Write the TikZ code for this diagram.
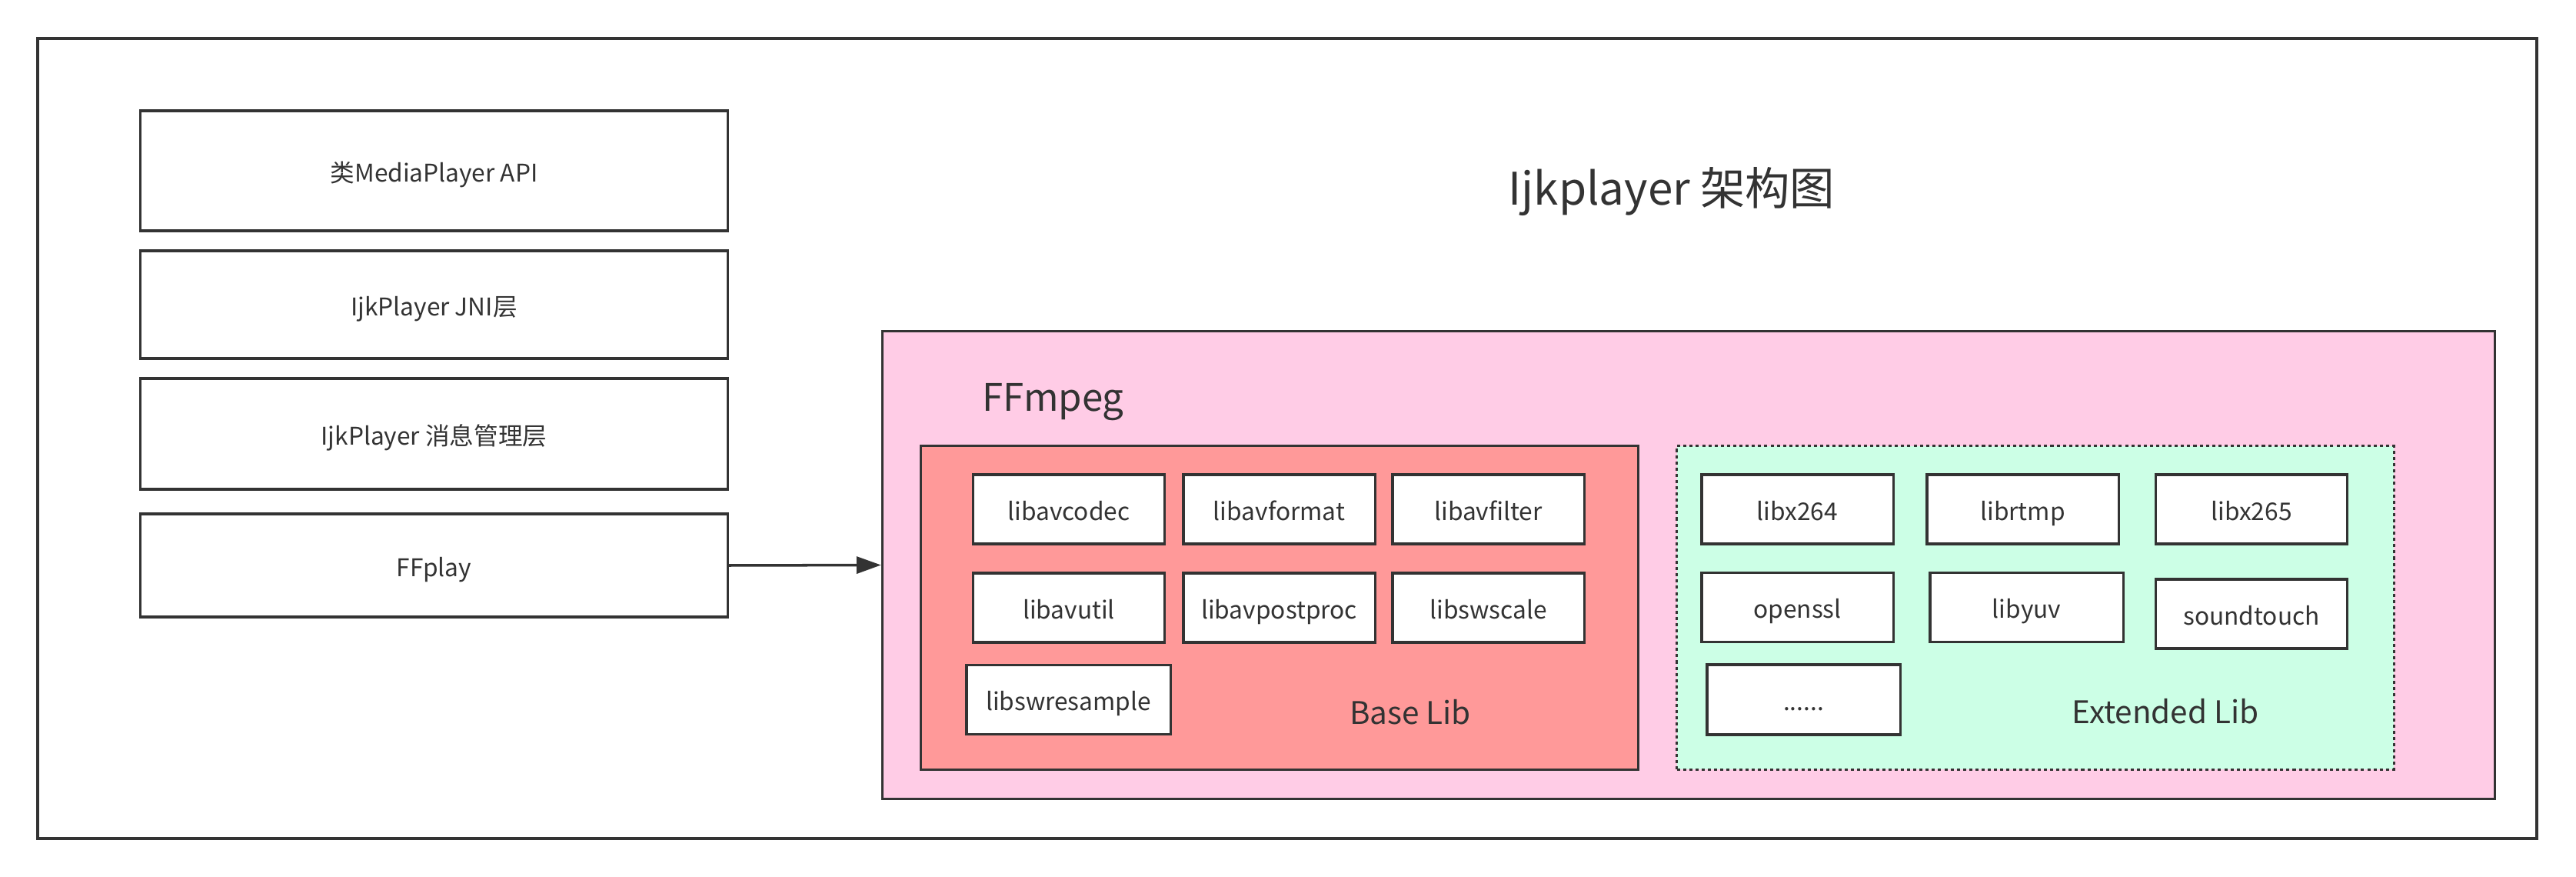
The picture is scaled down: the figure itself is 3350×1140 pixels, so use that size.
\documentclass[tikz,border=0pt]{standalone}
\usepackage{fontspec}
\setmainfont{Noto Sans CJK SC}
\usetikzlibrary{arrows.meta,positioning}
\definecolor{ink}{HTML}{333333}
\definecolor{ffpink}{HTML}{FFCCE6}
\definecolor{basered}{HTML}{FF9999}
\definecolor{extgreen}{HTML}{CCFFE6}

\begin{document}
\begin{tikzpicture}[x=0.01cm, y=-0.01cm,
  every node/.style={font=\fontsize{9}{11}\selectfont, text=ink},
  layer/.style={draw=ink, fill=white, line width=0.9pt, minimum width=7.63cm, inner sep=0pt, text height=10pt, text depth=2pt},
  lib/.style={draw=ink, fill=white, line width=0.9pt, minimum width=2.49cm, minimum height=0.9cm, inner sep=0pt, text height=10pt, text depth=2pt},
  group/.style={draw=ink, line width=0.9pt, minimum width=9.32cm, minimum height=4.2cm, inner sep=0pt},
  grouplab/.style={font=\fontsize{11.5}{13}\selectfont},
]
\useasboundingbox (0,0) rectangle (3350,1140);

% Outer frame
\draw[ink, line width=0.9pt] (49,50) rectangle (3299,1090);

% Title
\node[font=\fontsize{16.6}{19}\selectfont, anchor=base, inner sep=0pt] (title) at (2174,267) {Ijkplayer 架构图};

% --- Player layers ---
\node[layer, minimum height=1.56cm] (api) at (564.5,222) {类MediaPlayer API};
\node[layer, minimum height=1.40cm] (jni) at (564.5,396) {IjkPlayer JNI层};
\node[layer, minimum height=1.44cm] (msg) at (564.5,564) {IjkPlayer 消息管理层};
\node[layer, minimum height=1.34cm] (ffplay) at (564.5,735) {FFplay};

% --- FFmpeg container ---
\node[draw=ink, fill=ffpink, line width=0.9pt, minimum width=20.96cm, minimum height=6.07cm, inner sep=0pt] (ffmpeg) at (2196,734.5) {};
\node[font=\fontsize{14}{16}\selectfont, anchor=base west, inner sep=0pt] (ffmpeglab) at (1277,535) {FFmpeg};

% Base libraries
\node[group, fill=basered] (base) at (1664,790) {};
\node[lib] (avcodec) at (1390,662) {libavcodec};
\node[lib] (avformat) at (1663.5,662) {libavformat};
\node[lib] (avfilter) at (1935.5,662) {libavfilter};
\node[lib] (avutil) at (1390,790) {libavutil};
\node[lib] (postproc) at (1663.5,790) {libavpostproc};
\node[lib] (swscale) at (1935.5,790) {libswscale};
\node[lib, minimum width=2.65cm] (swresample) at (1389.5,909.5) {libswresample};
\node[grouplab] (baselab) at (1834,926) {Base Lib};

% Extended libraries (dotted border)
\node[group, fill=extgreen, dash pattern=on 1.15pt off 1.15pt] (ext) at (2647,790) {};
\node[lib] (x264) at (2337.5,662) {libx264};
\node[lib] (rtmp) at (2630.5,662) {librtmp};
\node[lib] (x265) at (2928,662) {libx265};
\node[lib] (openssl) at (2337.5,789.5) {openssl};
\node[lib, minimum width=2.51cm] (yuv) at (2635.5,789.5) {libyuv};
\node[lib] (soundtouch) at (2928,798) {soundtouch};
\node[lib, minimum width=2.51cm, minimum height=0.91cm] (more) at (2345.5,909.5) {......};
\node[grouplab] (extlab) at (2816,925) {Extended Lib};

% FFplay calls into FFmpeg
\draw[ink, line width=1pt, -{Triangle[length=0.32cm,width=0.22cm]}] (ffplay.east) -- (ffmpeg.west);

\end{tikzpicture}
\end{document}
